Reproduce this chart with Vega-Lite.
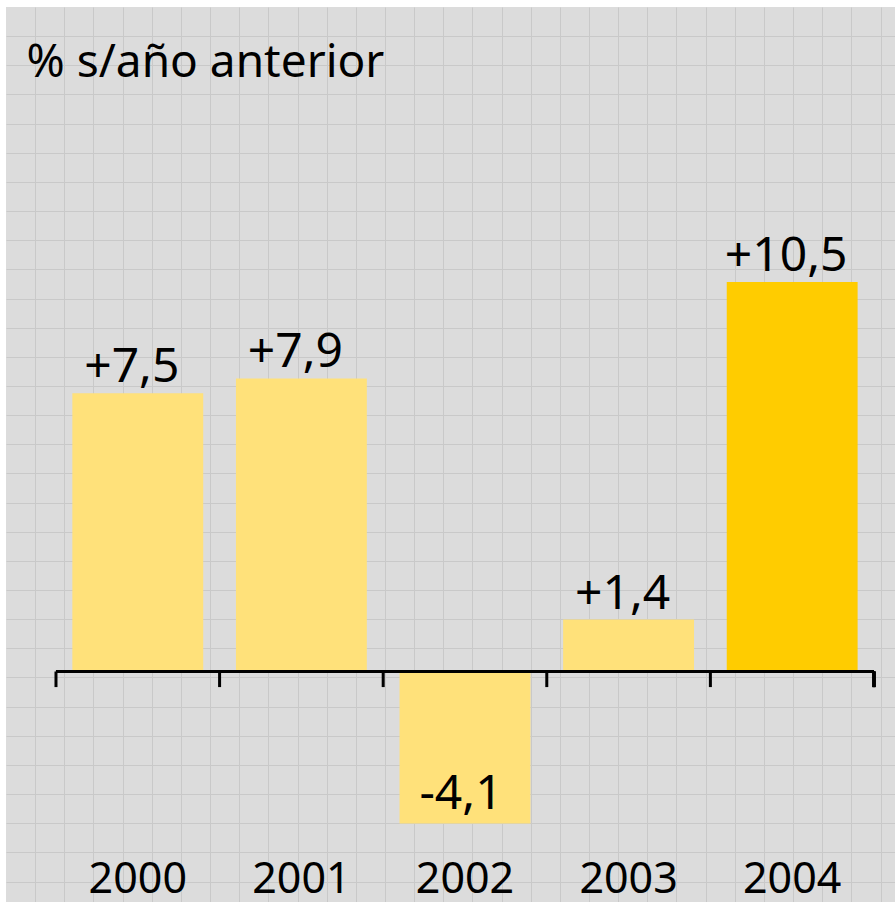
{
  "$schema": "https://vega.github.io/schema/vega-lite/v6.json",
  "width": 889,
  "height": 895,
  "autosize": "none",
  "padding": {"left": 6, "top": 7, "right": 0, "bottom": 0},
  "background": "white",
  "config": {
    "view": {"fill": "#dcdcdc", "stroke": null},
    "font": "Noto Sans"
  },
  "layer": [
    {
      "mark": {"type": "point", "opacity": 0},
      "encoding": {
        "x": {
          "datum": 0,
          "type": "quantitative",
          "scale": {"domain": [0, 30.497], "nice": false, "zero": false},
          "axis": {
            "orient": "top",
            "grid": true,
            "gridColor": "#c9c9c9",
            "gridWidth": 1,
            "gridOpacity": 1,
            "values": [1,2,3,4,5,6,7,8,9,10,11,12,13,14,15,16,17,18,19,20,21,22,23,24,25,26,27,28,29,30],
            "labels": false,
            "ticks": false,
            "domain": false,
            "title": null
          }
        },
        "y": {
          "datum": 0,
          "type": "quantitative",
          "scale": {"domain": [0, 30.703], "nice": false, "zero": false, "reverse": true},
          "axis": {
            "orient": "right",
            "grid": true,
            "gridColor": "#c9c9c9",
            "gridWidth": 1,
            "gridOpacity": 1,
            "values": [1,2,3,4,5,6,7,8,9,10,11,12,13,14,15,16,17,18,19,20,21,22,23,24,25,26,27,28,29,30],
            "labels": false,
            "ticks": false,
            "domain": false,
            "title": null
          }
        }
      }
    },
    {
      "data": {
        "values": [
          {"year": "2000", "value": 7.5, "label": "+7,5"},
          {"year": "2001", "value": 7.9, "label": "+7,9"},
          {"year": "2002", "value": -4.1, "label": "-4,1"},
          {"year": "2003", "value": 1.4, "label": "+1,4"},
          {"year": "2004", "value": 10.5, "label": "+10,5"}
        ]
      },
      "encoding": {
        "x": {
          "field": "year",
          "type": "nominal",
          "scale": {
            "type": "band",
            "domain": ["2000", "2001", "2002", "2003", "2004"],
            "paddingInner": 0,
            "paddingOuter": 0.217,
            "align": 0.704
          },
          "axis": {
            "orient": "bottom",
            "domain": false,
            "ticks": false,
            "grid": false,
            "labelAngle": 0,
            "labelFont": "Noto Sans",
            "labelFontSize": 43,
            "labelColor": "#000000",
            "labelPadding": 0,
            "offset": -44,
            "title": null
          }
        },
        "y": {
          "field": "value",
          "type": "quantitative",
          "scale": {"domain": [-6.213, 17.911], "nice": false, "zero": false},
          "axis": {
            "orient": "left",
            "domain": false,
            "ticks": false,
            "labels": false,
            "grid": false,
            "title": "% s/año anterior",
            "titleAngle": 0,
            "titleX": 20,
            "titleY": 69,
            "titleAlign": "left",
            "titleBaseline": "alphabetic",
            "titleFont": "Noto Sans",
            "titleFontSize": 46,
            "titleFontWeight": "normal",
            "titleColor": "#000000"
          }
        }
      },
      "layer": [
        {
          "mark": {"type": "bar", "width": {"band": 0.8}},
          "encoding": {
            "color": {
              "condition": {"test": "datum.year === '2004'", "value": "#FFCC00"},
              "value": "#FFE17A"
            }
          }
        },
        {
          "mark": {"type": "rule", "color": "#000000", "strokeWidth": 3},
          "encoding": {
            "x": {"datum": "2000", "bandPosition": 0},
            "x2": {"datum": "2004", "bandPosition": 1},
            "y": {"datum": 0},
            "y2": null
          }
        },
        {
          "mark": {"type": "rule", "color": "#000000", "strokeWidth": 3},
          "encoding": {
            "x": {"field": "year", "type": "nominal", "bandPosition": 0},
            "y": {"datum": 0},
            "y2": {"datum": -0.42}
          }
        },
        {
          "mark": {"type": "rule", "color": "#000000", "strokeWidth": 3},
          "encoding": {
            "x": {"datum": "2004", "bandPosition": 1},
            "y": {"datum": 0},
            "y2": {"datum": -0.42}
          }
        },
        {
          "transform": [{"filter": "datum.value > 0"}],
          "mark": {"type": "text", "baseline": "alphabetic", "align": "center", "dy": -11, "dx": -6, "fontSize": 48, "color": "#000000"},
          "encoding": {"text": {"field": "label"}}
        },
        {
          "transform": [{"filter": "datum.value < 0"}],
          "mark": {"type": "text", "baseline": "alphabetic", "align": "center", "dy": -15, "dx": -4, "fontSize": 48, "color": "#000000"},
          "encoding": {"text": {"field": "label"}}
        }
      ]
    }
  ],
  "resolve": {"scale": {"x": "independent", "y": "independent"}, "axis": {"x": "independent", "y": "independent"}}
}
